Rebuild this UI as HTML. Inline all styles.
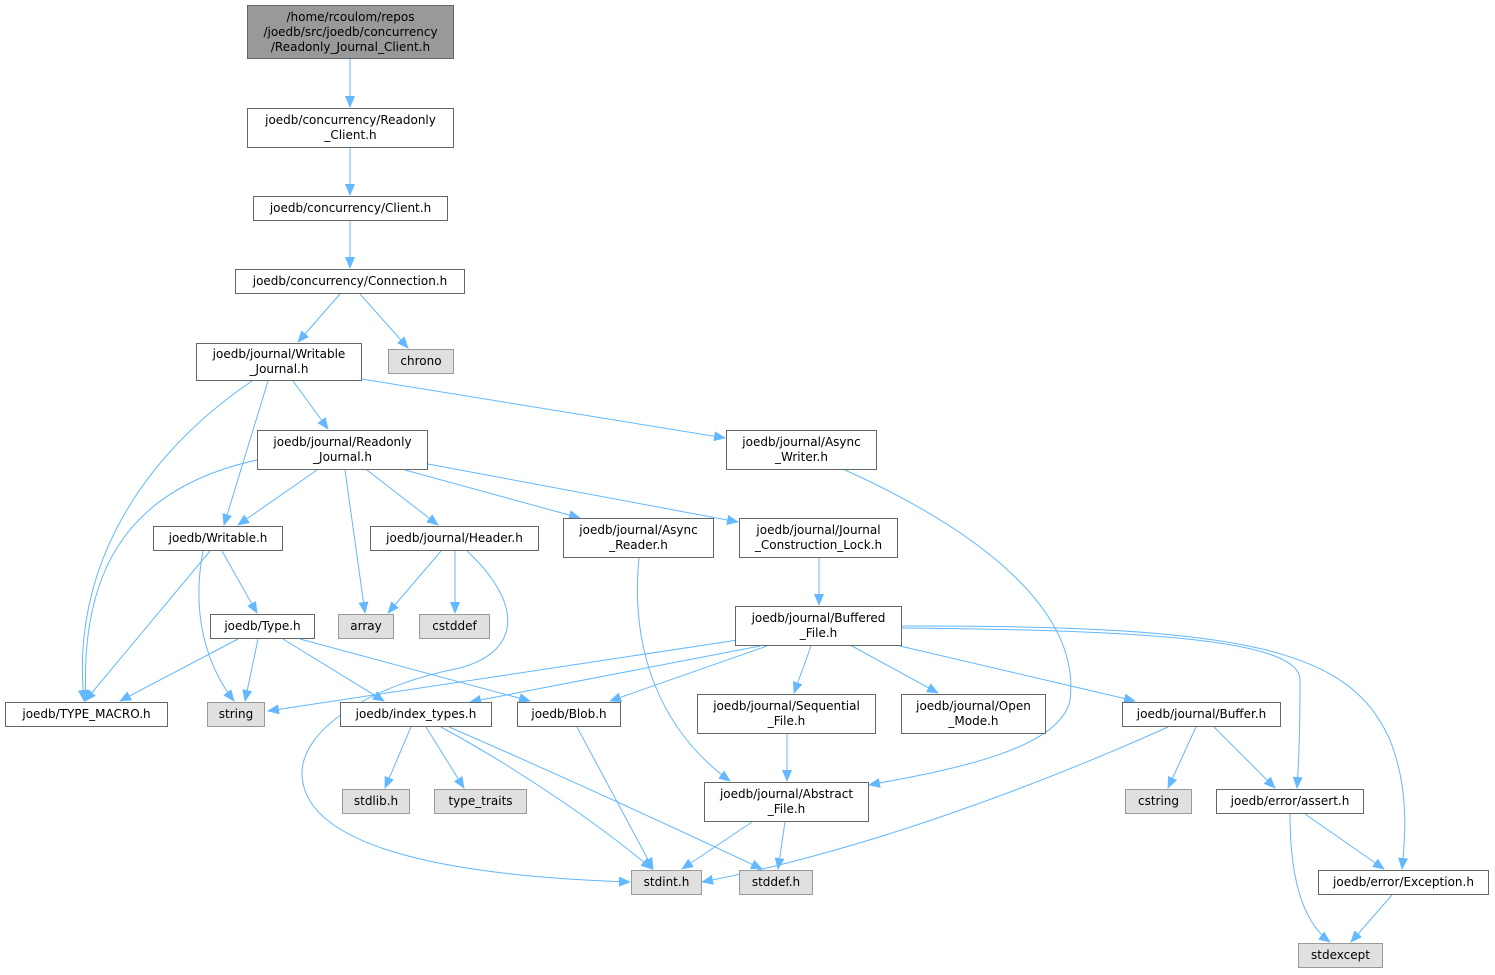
<!DOCTYPE html>
<html><head><meta charset="utf-8"><style>
body{margin:0;background:#fff;width:1495px;height:975px;position:relative;overflow:hidden;font-family:"DejaVu Sans","Liberation Sans",sans-serif;}
.n{position:absolute;box-sizing:border-box;border:1px solid #666;background:#fff;font-size:12px;line-height:15px;text-align:center;display:flex;align-items:center;justify-content:center;color:#000;white-space:pre;}
.g{background:#e0e0e0;border-color:#999;}
.r{background:#999;border-color:#666;}
svg{position:absolute;left:0;top:0;}
</style></head><body>
<svg width="1495" height="975"><defs><marker id="a" markerWidth="12" markerHeight="10" refX="11" refY="5" orient="auto" markerUnits="userSpaceOnUse"><path d="M0,0 L12,5 L0,10 z" fill="#63b8ff"/></marker></defs>
<g fill="none" stroke="#63b8ff" stroke-width="1" marker-end="url(#a)">
<path d="M350,59 L350,107"/>
<path d="M350,148 L350,195"/>
<path d="M350,221 L350,268"/>
<path d="M340,294 L298,342"/>
<path d="M360,294 L408,348"/>
<path d="M293,381 L328,429"/>
<path d="M362,379 L725,438"/>
<path d="M268,381 L224,525"/>
<path d="M252,381 C150,450 70,560 84,701"/>
<path d="M317,470 L238,525"/>
<path d="M257,460 C120,490 80,580 86,701"/>
<path d="M345,470 L365,613"/>
<path d="M367,470 L438,525"/>
<path d="M405,470 L580,518"/>
<path d="M428,464 L738,522"/>
<path d="M845,470 C1000,540 1080,620 1070,700 C1060,750 950,770 869,785"/>
<path d="M222,551 L257,613"/>
<path d="M210,551 L85,701"/>
<path d="M203,551 C190,620 210,670 234,701"/>
<path d="M441,551 L388,613"/>
<path d="M455,551 L455,613"/>
<path d="M467,551 C520,600 525,650 460,668 C370,685 300,730 302,775 C305,840 420,875 630,882"/>
<path d="M639,558 C630,650 660,730 730,781"/>
<path d="M819,558 L819,605"/>
<path d="M238,639 L120,701"/>
<path d="M258,639 L245,701"/>
<path d="M283,639 L384,701"/>
<path d="M300,639 L530,701"/>
<path d="M738,640 L268,711"/>
<path d="M760,646 L470,702"/>
<path d="M767,646 L610,701"/>
<path d="M811,646 L794,693"/>
<path d="M852,646 L938,693"/>
<path d="M900,646 L1135,701"/>
<path d="M902,628 C1150,630 1300,640 1300,680 C1300,720 1299,760 1297,788"/>
<path d="M902,626 C1250,625 1350,650 1390,740 C1410,790 1405,840 1402,869"/>
<path d="M411,727 L385,788"/>
<path d="M426,727 L464,788"/>
<path d="M441,727 C520,770 600,825 652,869"/>
<path d="M449,727 C560,775 690,835 762,869"/>
<path d="M577,727 L653,869"/>
<path d="M787,734 L787,781"/>
<path d="M752,822 L682,869"/>
<path d="M785,822 L778,869"/>
<path d="M1168,727 C1050,780 870,850 702,882"/>
<path d="M1196,727 L1168,788"/>
<path d="M1214,727 L1275,788"/>
<path d="M1305,814 L1384,869"/>
<path d="M1290,814 C1290,870 1300,920 1330,942"/>
<path d="M1392,895 L1351,942"/>
</g></svg>
<div class="n r" style="left:247px;top:5px;width:207px;height:54px">/home/rcoulom/repos
/joedb/src/joedb/concurrency
/Readonly_Journal_Client.h</div>
<div class="n" style="left:247px;top:108px;width:207px;height:40px">joedb/concurrency/Readonly
_Client.h</div>
<div class="n" style="left:253px;top:196px;width:195px;height:25px">joedb/concurrency/Client.h</div>
<div class="n" style="left:235px;top:269px;width:230px;height:25px">joedb/concurrency/Connection.h</div>
<div class="n" style="left:196px;top:343px;width:166px;height:38px">joedb/journal/Writable
_Journal.h</div>
<div class="n g" style="left:388px;top:349px;width:66px;height:25px">chrono</div>
<div class="n" style="left:257px;top:430px;width:171px;height:40px">joedb/journal/Readonly
_Journal.h</div>
<div class="n" style="left:726px;top:430px;width:151px;height:40px">joedb/journal/Async
_Writer.h</div>
<div class="n" style="left:153px;top:526px;width:130px;height:25px">joedb/Writable.h</div>
<div class="n" style="left:370px;top:526px;width:169px;height:25px">joedb/journal/Header.h</div>
<div class="n" style="left:563px;top:518px;width:151px;height:40px">joedb/journal/Async
_Reader.h</div>
<div class="n" style="left:739px;top:518px;width:159px;height:40px">joedb/journal/Journal
_Construction_Lock.h</div>
<div class="n" style="left:210px;top:614px;width:105px;height:25px">joedb/Type.h</div>
<div class="n g" style="left:338px;top:614px;width:56px;height:25px">array</div>
<div class="n g" style="left:419px;top:614px;width:71px;height:25px">cstddef</div>
<div class="n" style="left:735px;top:606px;width:167px;height:40px">joedb/journal/Buffered
_File.h</div>
<div class="n" style="left:5px;top:702px;width:163px;height:25px">joedb/TYPE_MACRO.h</div>
<div class="n g" style="left:207px;top:702px;width:58px;height:25px">string</div>
<div class="n" style="left:340px;top:702px;width:152px;height:25px">joedb/index_types.h</div>
<div class="n" style="left:517px;top:702px;width:104px;height:25px">joedb/Blob.h</div>
<div class="n" style="left:697px;top:694px;width:179px;height:40px">joedb/journal/Sequential
_File.h</div>
<div class="n" style="left:901px;top:694px;width:145px;height:40px">joedb/journal/Open
_Mode.h</div>
<div class="n" style="left:1122px;top:702px;width:159px;height:25px">joedb/journal/Buffer.h</div>
<div class="n g" style="left:342px;top:789px;width:68px;height:25px">stdlib.h</div>
<div class="n g" style="left:434px;top:789px;width:93px;height:25px">type_traits</div>
<div class="n" style="left:704px;top:782px;width:165px;height:40px">joedb/journal/Abstract
_File.h</div>
<div class="n g" style="left:1125px;top:789px;width:67px;height:25px">cstring</div>
<div class="n" style="left:1216px;top:789px;width:148px;height:25px">joedb/error/assert.h</div>
<div class="n g" style="left:631px;top:870px;width:71px;height:25px">stdint.h</div>
<div class="n g" style="left:739px;top:870px;width:74px;height:25px">stddef.h</div>
<div class="n" style="left:1318px;top:870px;width:171px;height:25px">joedb/error/Exception.h</div>
<div class="n g" style="left:1298px;top:943px;width:85px;height:25px">stdexcept</div>
</body></html>
